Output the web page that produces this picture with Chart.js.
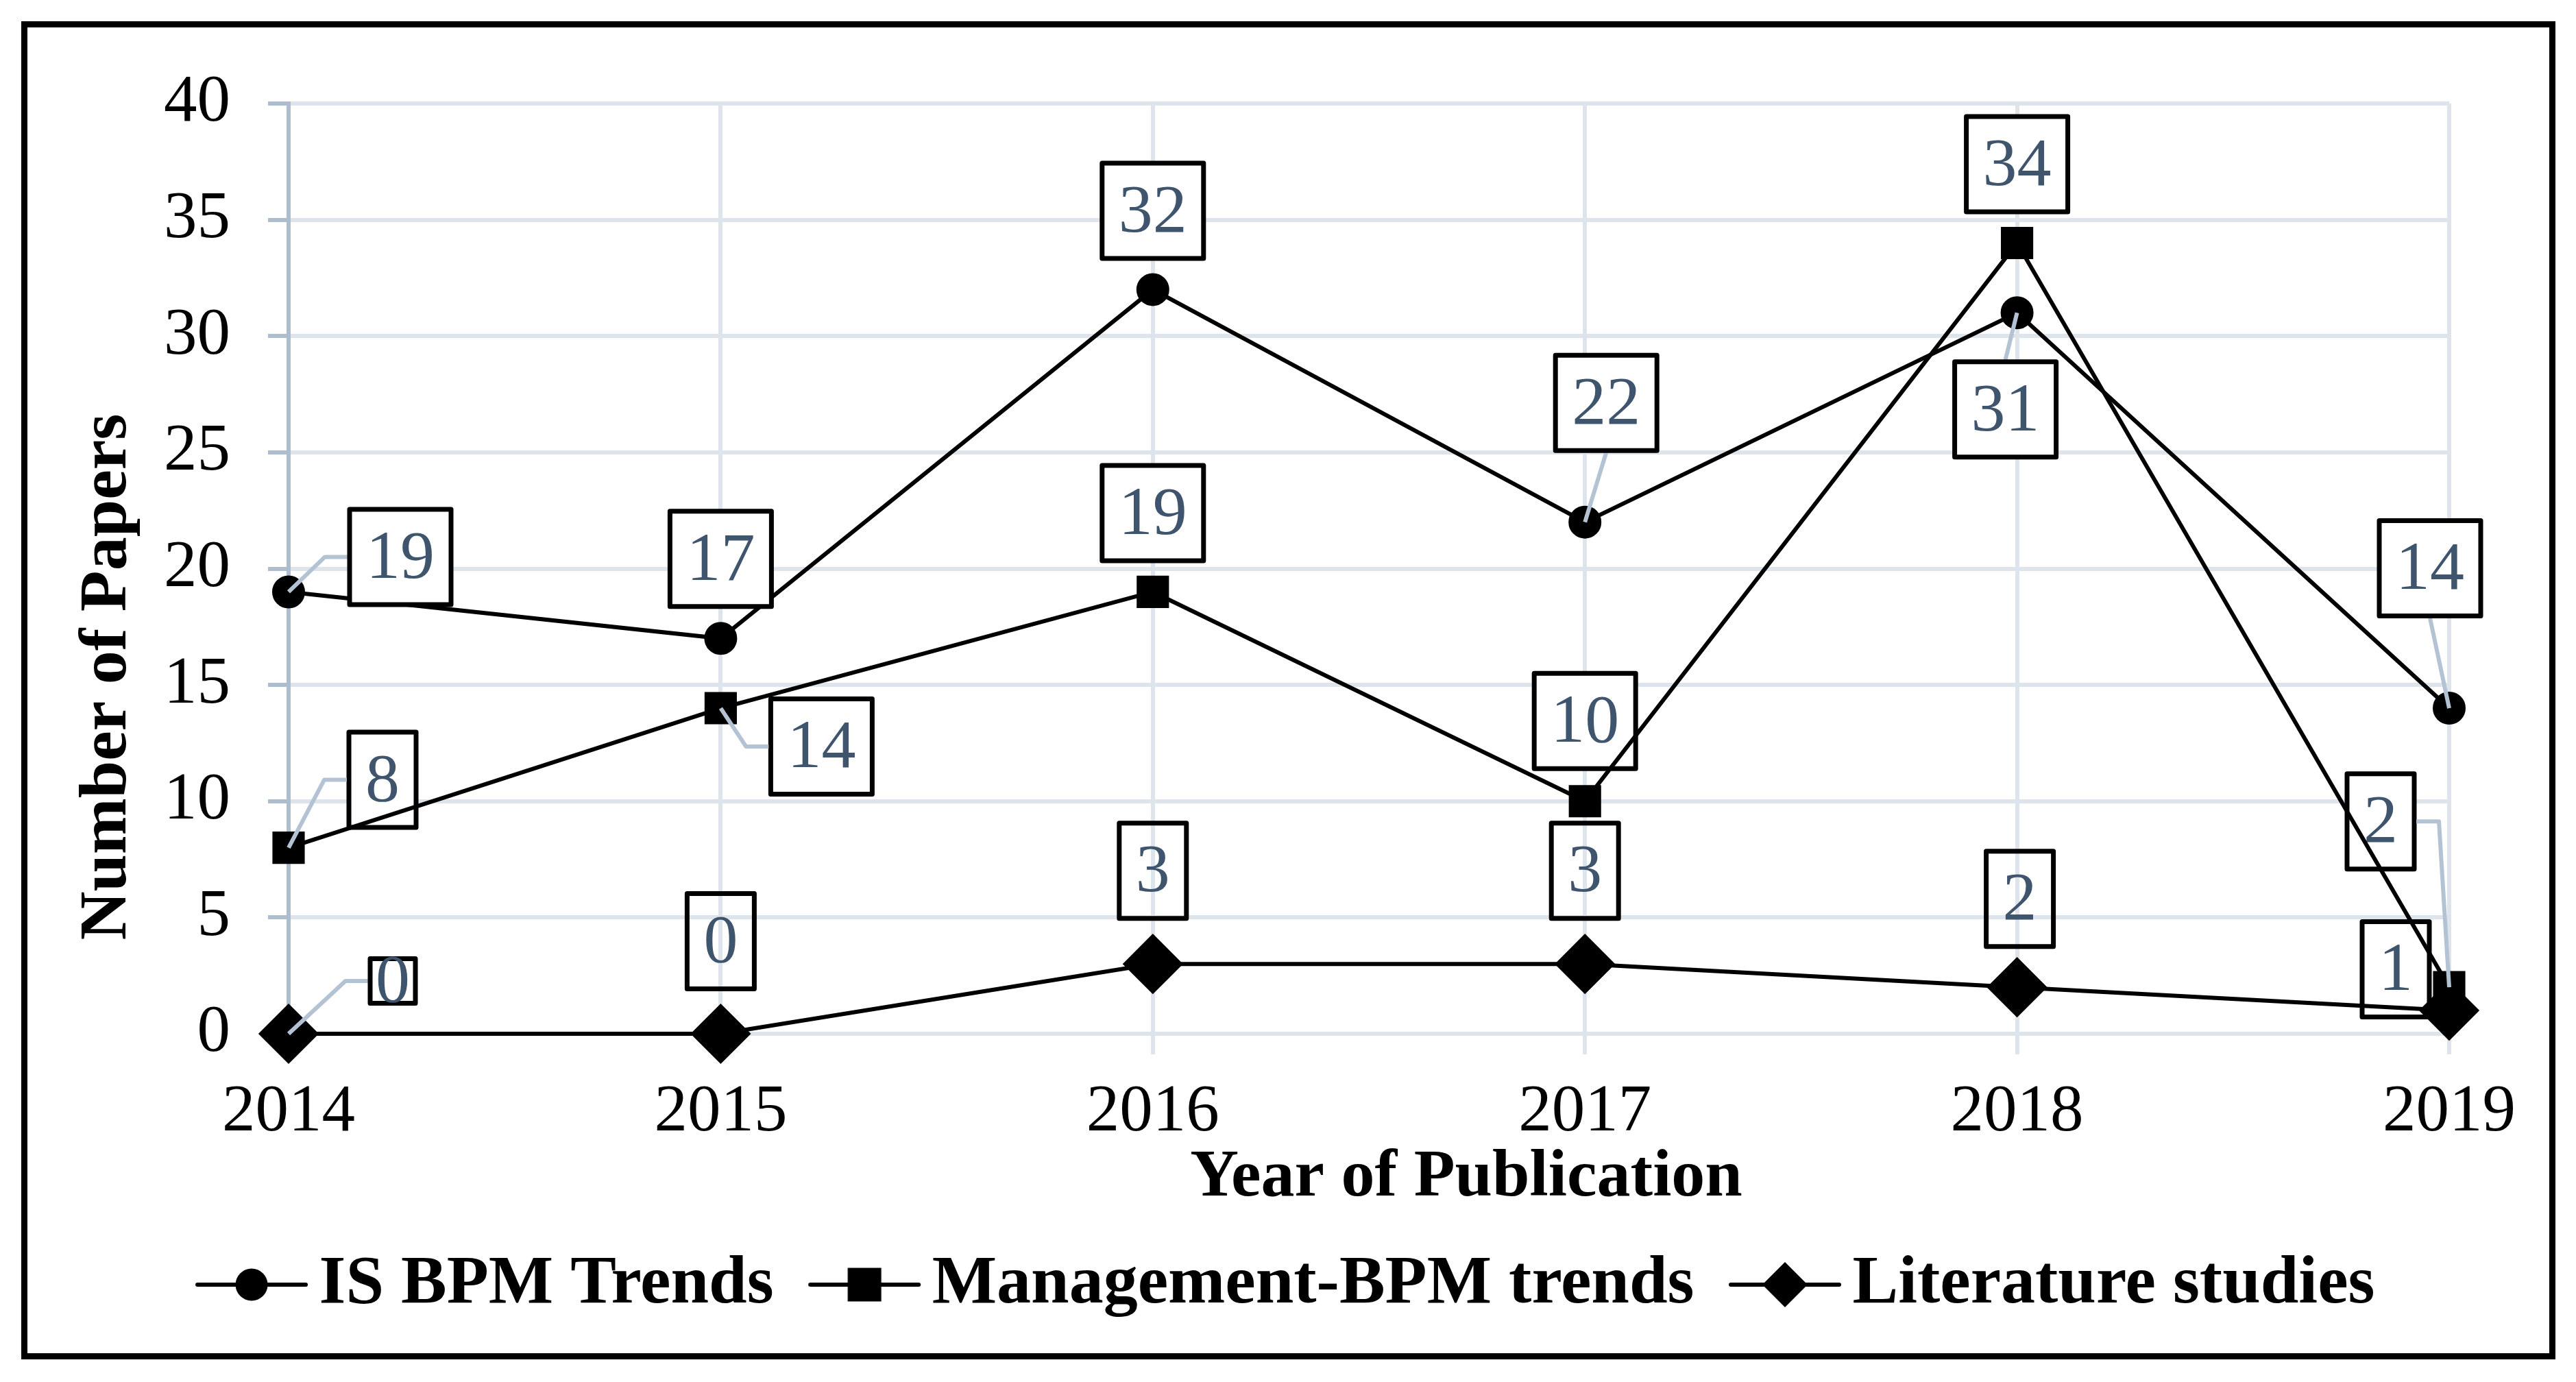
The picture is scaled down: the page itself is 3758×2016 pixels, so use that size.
<!DOCTYPE html>
<html lang="en">
<head>
  <meta charset="UTF-8" />
  <title>Number of Papers by Year of Publication</title>
  <script src="https://cdn.jsdelivr.net/npm/chart.js@4.4.1/dist/chart.umd.min.js"></script>
  <style>
    body { margin: 0; background: #fff; }
    #wrap { position: relative; width: 3758px; height: 2016px; }
    #frame {
      position: absolute; left: 31px; top: 31px; width: 3697px; height: 1952px;
      box-sizing: border-box; border: 9px solid #000; pointer-events: none;
    }
  </style>
</head>
<body>
  <div id="wrap">
    <canvas id="paperChart" width="3758" height="2016"></canvas>
    <div id="frame"></div>
  </div>

  <script>
    // data
    const years = ["2014", "2015", "2016", "2017", "2018", "2019"];
    const isBpmTrends = [19, 17, 32, 22, 31, 14];
    const mgmtBpmTrends = [8, 14, 19, 10, 34, 2];
    const literatureStudies = [0, 0, 3, 3, 2, 1];
    const seriesNames = ["IS BPM Trends", "Management-BPM trends", "Literature studies"];
    const yTickValues = [0, 5, 10, 15, 20, 25, 30, 35, 40];
    const seriesData = [isBpmTrends, mgmtBpmTrends, literatureStudies];

    // label placement (pixel offsets from the point, leader side, optional box size)
    const labelLayout = [
      [[163, -51, "left"], [0, -116], [0, -115], [31, -174, "bottom"], [-17, 141, "top"], [-28, -204, "bottom"]],
      [[137, -99, "left"], [147, 56, "left"], [0, -115], [0, -117], [0, -115], [-100, -242, "right"]],
      [[152, -77, "left", [66, 65]], [0, -135], [0, -136], [0, -136], [4, -129], [-78, -60]]
    ];

    const SERIF = "'Liberation Serif', 'Times New Roman', serif";
    const LABEL_FONT = "100px " + SERIF;
    const GRID = "#dde4eb";
    const AXIS = "#aebdcd";

    function makeIcon(style) {
      const c = document.createElement("canvas");
      c.width = 166; c.height = 80;
      const g = c.getContext("2d");
      g.strokeStyle = "#000"; g.lineWidth = 6; g.lineCap = "round";
      g.beginPath(); g.moveTo(4, 40); g.lineTo(162, 40); g.stroke();
      g.fillStyle = "#000";
      g.beginPath();
      if (style === "circle") g.arc(83, 40, 23.5, 0, Math.PI * 2);
      else if (style === "rect") g.rect(58.5, 15.5, 49, 49);
      else { g.moveTo(83, 7); g.lineTo(116, 40); g.lineTo(83, 73); g.lineTo(50, 40); g.closePath(); }
      g.fill();
      return c;
    }
    const legendIcons = [makeIcon("circle"), makeIcon("rect"), makeIcon("diamond")];

    function labelBox(ctx, s, i, pt) {
      const lay = labelLayout[s][i];
      const text = String(seriesData[s][i]);
      ctx.font = LABEL_FONT;
      const w = lay[3] ? lay[3][0] : ctx.measureText(text).width + 48;
      const h = lay[3] ? lay[3][1] : 139;
      const cx = pt.x + lay[0], cy = pt.y + lay[1];
      return { text, cx, cy, w, h, left: cx - w / 2, right: cx + w / 2, top: cy - h / 2, bottom: cy + h / 2, leader: lay[2] };
    }

    function drawLeader(ctx, b, pt) {
      if (!b.leader) return;
      ctx.save();
      ctx.strokeStyle = "#b4c3d3"; ctx.lineWidth = 6; ctx.lineJoin = "round";
      ctx.beginPath();
      ctx.moveTo(pt.x, pt.y);
      if (b.leader === "left") { ctx.lineTo(b.left - 36, b.cy); ctx.lineTo(b.left - 3, b.cy); }
      else if (b.leader === "right") { ctx.lineTo(b.right + 36, b.cy); ctx.lineTo(b.right + 3, b.cy); }
      else if (b.leader === "bottom") ctx.lineTo(b.cx, b.bottom + 3);
      else ctx.lineTo(b.cx, b.top - 3);
      ctx.stroke();
      ctx.restore();
    }

    function drawBox(ctx, b, filled) {
      ctx.save();
      if (filled) { ctx.fillStyle = "#fff"; ctx.fillRect(b.left, b.top, b.w, b.h); }
      ctx.strokeStyle = "#000"; ctx.lineWidth = 7; ctx.lineJoin = "round";
      ctx.strokeRect(b.left, b.top, b.w, b.h);
      ctx.font = LABEL_FONT; ctx.fillStyle = "#3f546d";
      ctx.textAlign = "center"; ctx.textBaseline = "middle";
      ctx.fillText(b.text, b.cx, b.cy + 4);
      ctx.restore();
    }

    function eachLabel(chart, s, fn) {
      chart.getDatasetMeta(s).data.forEach((pt, i) => fn(labelBox(chart.ctx, s, i, pt), pt));
    }

    const dataLabels = {
      id: "dataLabels",
      beforeDatasetsDraw(chart) {
        eachLabel(chart, 1, (b) => drawBox(chart.ctx, b, true));
      },
      afterDatasetsDraw(chart) {
        [0, 1, 2].forEach((s) => eachLabel(chart, s, (b, pt) => drawLeader(chart.ctx, b, pt)));
        eachLabel(chart, 0, (b) => drawBox(chart.ctx, b, true));
        eachLabel(chart, 2, (b) => drawBox(chart.ctx, b, false));
      }
    };

    // axis titles sit off-centre in the original, so they are drawn here
    const axisTitles = {
      id: "axisTitles",
      afterDraw(chart) {
        const { ctx, chartArea } = chart;
        ctx.save();
        ctx.fillStyle = "#000";
        ctx.font = "bold 98px " + SERIF;
        ctx.textAlign = "center"; ctx.textBaseline = "middle";
        ctx.fillText("Year of Publication", (chartArea.left + chartArea.right) / 2 + 142, chartArea.bottom + 211);
        ctx.translate(chartArea.left - 263, (chartArea.top + chartArea.bottom) / 2 + 158);
        ctx.rotate(-Math.PI / 2);
        ctx.fillText("Number of Papers", 0, 0);
        ctx.restore();
      }
    };

    const markerStyles = [
      { pointStyle: "circle", pointRadius: 22, pointBorderWidth: 4 },
      { pointStyle: "rect", pointRadius: 30.5, pointBorderWidth: 4 },
      { pointStyle: "rectRot", pointRadius: 42, pointBorderWidth: 3 }
    ];

    const paperChart = new Chart(document.getElementById("paperChart").getContext("2d"), {
      type: "line",
      data: {
        labels: years,
        datasets: seriesData.map((values, s) => ({
          label: seriesNames[s],
          data: values,
          borderColor: "#000",
          backgroundColor: "#000",
          borderWidth: 6,
          tension: 0,
          clip: false,
          pointBackgroundColor: "#000",
          pointBorderColor: "#000",
          pointHoverRadius: markerStyles[s].pointRadius,
          ...markerStyles[s]
        }))
      },
      options: {
        responsive: false,
        animation: false,
        layout: { padding: { left: 210, right: 185, top: 151, bottom: 82 } },
        scales: {
          x: {
            offset: false,
            afterFit(scale) { scale.height = 232; },
            grid: { color: GRID, lineWidth: 6, tickLength: 30, tickColor: GRID, z: -1 },
            border: { color: GRID, width: 6 },
            ticks: { color: "#000", font: { family: SERIF, size: 97 }, padding: 27, maxRotation: 0, autoSkip: false }
          },
          y: {
            min: 0,
            max: 40,
            afterFit(scale) { scale.width = 211; },
            afterBuildTicks(scale) { scale.ticks = yTickValues.map((v) => ({ value: v })); },
            grid: { color: GRID, lineWidth: 6, tickLength: 30, tickColor: AXIS, z: -1 },
            border: { color: AXIS, width: 6 },
            ticks: { color: "#000", font: { family: SERIF, size: 97 }, padding: 55 }
          }
        },
        plugins: {
          tooltip: { enabled: false },
          legend: {
            position: "bottom",
            labels: {
              usePointStyle: true,
              pointStyleWidth: 97,
              padding: 84,
              color: "#000",
              font: { family: SERIF, size: 100, weight: "bold" },
              generateLabels(chart) {
                const items = Chart.defaults.plugins.legend.labels.generateLabels(chart);
                items.forEach((it, i) => { it.pointStyle = legendIcons[i]; });
                return items;
              }
            }
          }
        }
      },
      plugins: [dataLabels, axisTitles]
    });
  </script>
</body>
</html>
